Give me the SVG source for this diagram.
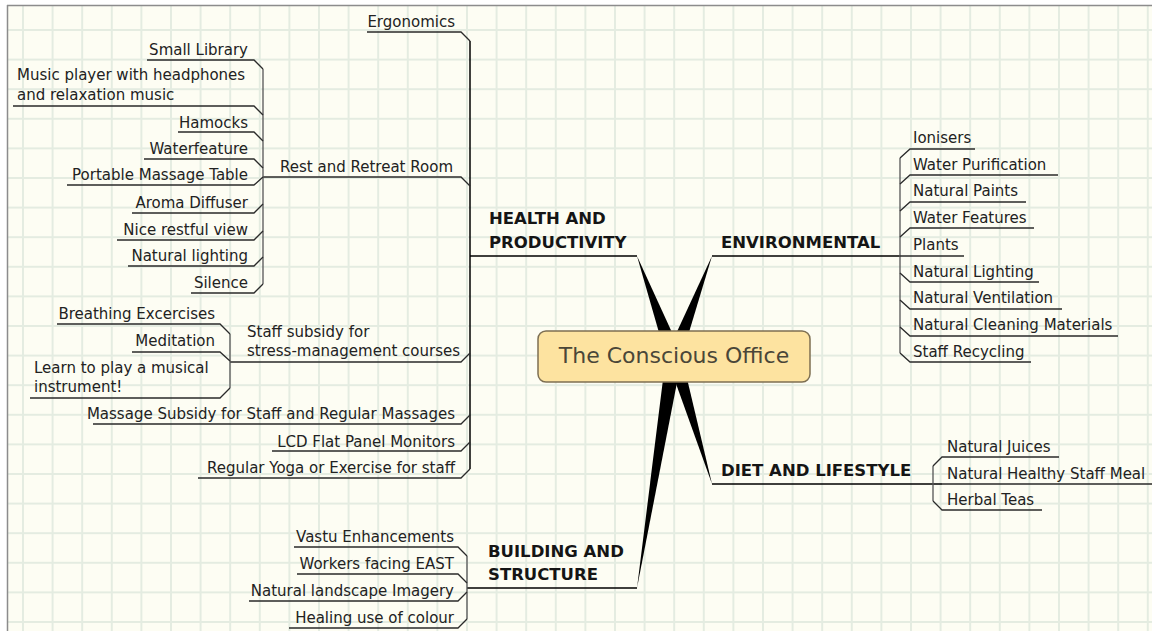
<svg xmlns="http://www.w3.org/2000/svg" width="1152" height="631" viewBox="0 0 1152 631">
<style>
.t{font-family:"DejaVu Sans","Liberation Sans",sans-serif;font-size:15px;fill:#222}
.e{text-anchor:end}
.m{font-family:"DejaVu Sans","Liberation Sans",sans-serif;font-size:16.5px;font-weight:bold;fill:#151515}
.c{font-family:"DejaVu Sans","Liberation Sans",sans-serif;font-size:22px;fill:#4a4638;text-anchor:middle}
.ln{fill:none;stroke:#2a2a2a;stroke-width:1.3}
.br{fill:none;stroke:#555;stroke-width:1.3}
.mn{fill:none;stroke:#000;stroke-width:1.5}
.wd{fill:#000;stroke:none}
</style>
<defs>
<pattern id="grid" patternUnits="userSpaceOnUse" x="22" y="29" width="29.6" height="29.6">
<path d="M0 1H29.6M1 0V29.6" stroke="#e4ece1" stroke-width="2" fill="none"/>
</pattern>
</defs>
<rect width="1152" height="631" fill="#ffffff"/>
<rect x="7" y="5" width="1145" height="626" fill="#fdfdf3"/>
<rect x="7" y="5" width="1145" height="626" fill="url(#grid)"/>
<path d="M7 5.5H1152M7.5 5V631" stroke="#8c8c8c" stroke-width="1.5" fill="none"/>

<g id="connectors">
<!-- tapered main branches -->
<polygon class="wd" points="637,256 681.5,353.2 666.5,358.8"/>
<polygon class="wd" points="712,256 681,358.7 667,353.3"/>
<polygon class="wd" points="712,484 681.2,353.9 666.8,358.1"/>
<polygon class="wd" points="637,588 681.9,357.3 666.1,354.7"/>
<!-- main underlines -->
<path class="mn" d="M470 256H637M712 256H900M712 484H942M467 588H637"/>
<!-- HP trunk -->
<path class="mn" d="M470 41V469"/>
<path class="ln" d="M470 41L461 32H367M470 186L461 177H263M470 353L461 362H230M470 415L461 424H93M470 442L461 451H272M470 469L461 478H198"/>
<!-- Rest and Retreat bracket -->
<path class="br" d="M263 69V284"/>
<path class="ln" d="M263 69L254 60H147M263 115L254 106H13M263 141L254 132H178M263 168L254 159H144M263 177L254 185H67M263 204L254 213H132M263 231L254 240H117M263 257L254 266H128M263 284L254 293H191"/>
<!-- Staff subsidy bracket -->
<path class="br" d="M230 334V388"/>
<path class="ln" d="M230 334L220 324H57M230 361L220 352H132M230 388L220 398H30"/>
<!-- Building bracket -->
<path class="br" d="M467 556V619"/>
<path class="ln" d="M467 556L458 547H294M467 583L458 574H297M467 592L458 601H249M467 619L458 628H289"/>
<!-- Environmental bracket -->
<path class="br" d="M900 158V353"/>
<path class="ln" d="M900 158L910 149H975M900 184L910 175H1058M900 211L910 202H1026M900 237L910 228H1034M900 256H964M900 273L910 282H1039M900 300L910 309H1062M900 327L910 336H1118M900 353L910 362H1031"/>
<!-- Diet bracket -->
<path class="br" d="M933 466V501"/>
<path class="ln" d="M933 466L942 457H1059M942 484H1152M933 501L942 510H1042"/>
</g>

<g id="center">
<rect x="538" y="331" width="272" height="51" rx="8" fill="#fde3a0" stroke="#7d6f52" stroke-width="1.5"/>
<text class="c" x="674" y="363">The Conscious Office</text>
</g>

<g id="health">
<text class="m" x="489" y="224">HEALTH AND</text>
<text class="m" x="489" y="248">PRODUCTIVITY</text>
</g>
<g id="environmental"><text class="m" x="721" y="248">ENVIRONMENTAL</text></g>
<g id="diet"><text class="m" x="721" y="476">DIET AND LIFESTYLE</text></g>
<g id="building">
<text class="m" x="488" y="557">BUILDING AND</text>
<text class="m" x="488" y="580">STRUCTURE</text>
</g>

<g id="hp-children">
<g id="ergonomics"><text class="t e" x="455" y="27">Ergonomics</text></g>
<g id="rest"><text class="t e" x="453" y="172">Rest and Retreat Room</text></g>
<g id="staff-subsidy"><text class="t" x="247" y="337">Staff subsidy for</text><text class="t" x="247" y="356">stress-management courses</text></g>
<g id="massage"><text class="t e" x="455" y="419">Massage Subsidy for Staff and Regular Massages</text></g>
<g id="lcd"><text class="t e" x="455" y="447">LCD Flat Panel Monitors</text></g>
<g id="yoga"><text class="t e" x="455" y="473">Regular Yoga or Exercise for staff</text></g>
</g>

<g id="rest-children">
<g id="small-library"><text class="t e" x="248" y="55">Small Library</text></g>
<g id="music"><text class="t" x="17" y="80">Music player with headphones</text><text class="t" x="17" y="100">and relaxation music</text></g>
<g id="hamocks"><text class="t e" x="248" y="128">Hamocks</text></g>
<g id="waterfeature"><text class="t e" x="248" y="154">Waterfeature</text></g>
<g id="massage-table"><text class="t e" x="248" y="180">Portable Massage Table</text></g>
<g id="aroma"><text class="t e" x="248" y="208">Aroma Diffuser</text></g>
<g id="view"><text class="t e" x="248" y="235">Nice restful view</text></g>
<g id="lighting"><text class="t e" x="248" y="261">Natural lighting</text></g>
<g id="silence"><text class="t e" x="248" y="288">Silence</text></g>
</g>

<g id="subsidy-children">
<g id="breathing"><text class="t e" x="215" y="319">Breathing Excercises</text></g>
<g id="meditation"><text class="t e" x="215" y="346">Meditation</text></g>
<g id="instrument"><text class="t" x="34" y="373">Learn to play a musical</text><text class="t" x="34" y="392">instrument!</text></g>
</g>

<g id="building-children">
<g id="vastu"><text class="t e" x="454" y="542">Vastu Enhancements</text></g>
<g id="east"><text class="t e" x="454" y="569">Workers facing EAST</text></g>
<g id="landscape"><text class="t e" x="454" y="596">Natural landscape Imagery</text></g>
<g id="colour"><text class="t e" x="454" y="623">Healing use of colour</text></g>
</g>

<g id="env-children">
<g id="ionisers"><text class="t" x="913" y="143">Ionisers</text></g>
<g id="water-purification"><text class="t" x="913" y="170">Water Purification</text></g>
<g id="paints"><text class="t" x="913" y="196">Natural Paints</text></g>
<g id="water-features"><text class="t" x="913" y="223">Water Features</text></g>
<g id="plants"><text class="t" x="913" y="250">Plants</text></g>
<g id="nat-lighting"><text class="t" x="913" y="277">Natural Lighting</text></g>
<g id="ventilation"><text class="t" x="913" y="303">Natural Ventilation</text></g>
<g id="cleaning"><text class="t" x="913" y="330">Natural Cleaning Materials</text></g>
<g id="recycling"><text class="t" x="913" y="357">Staff Recycling</text></g>
</g>

<g id="diet-children">
<g id="juices"><text class="t" x="947" y="452">Natural Juices</text></g>
<g id="meal"><text class="t" x="947" y="479">Natural Healthy Staff Meal</text></g>
<g id="teas"><text class="t" x="947" y="505">Herbal Teas</text></g>
</g>
</svg>
